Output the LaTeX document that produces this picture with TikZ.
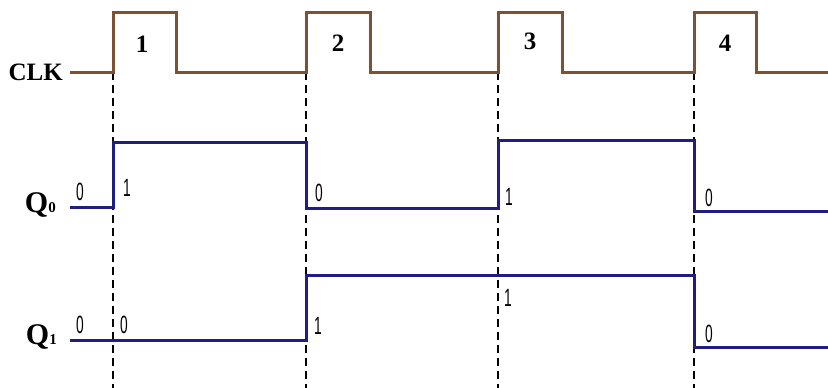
\documentclass[tikz,border=0pt]{standalone}
\usepackage{fontspec}
\setmainfont{Liberation Serif}
\newfontfamily\digitfont{Liberation Sans}
\definecolor{clkbrown}{RGB}{125,82,52}
\definecolor{qblue}{RGB}{32,30,128}
\tikzset{
  clkwave/.style={draw=clkbrown, line width=3pt, line join=miter},
  qwave/.style={draw=qblue, line width=3pt, line join=miter},
  guide/.style={draw=black, line width=1.1pt, dash pattern=on 8pt off 5pt},
  siglabel/.style={font=\bfseries\fontsize{25}{27}\selectfont, inner sep=0pt},
  pulselabel/.style={font=\bfseries\fontsize{25}{27}\selectfont, inner sep=0pt},
  qlabel/.style={font=\bfseries\fontsize{30}{32}\selectfont, inner sep=0pt, anchor=base east},
  bitlabel/.style={font=\digitfont\fontsize{25}{26}\selectfont, inner sep=0pt, xscale=0.55}
}
\begin{document}
\begin{tikzpicture}[x=1pt,y=-1pt]
\useasboundingbox (0,0) rectangle (828,388);
% guides
\foreach \gx/\gn in {113/g1,306/g2,498/g3,694/g4}{
  \coordinate (\gn top) at (\gx,72);
  \coordinate (\gn bot) at (\gx,388);
  \draw[guide] (\gn top) -- (\gn bot);
}
% CLK
\node[siglabel, anchor=east] (clk) at (63,72) {CLK};
\draw[clkwave] (70,72) -- (113,72) -- (113,12) -- (176,12) -- (176,72) -- (306,72) -- (306,12) -- (370,12) -- (370,72) -- (498,72) -- (498,12) -- (562,12) -- (562,72) -- (694,72) -- (694,12) -- (756,12) -- (756,72) -- (828,72);
\node[pulselabel] (p1) at (142,44) {1};
\node[pulselabel] (p2) at (338,43) {2};
\node[pulselabel] (p3) at (530,41) {3};
\node[pulselabel] (p4) at (725,43) {4};
% Q0
\node[qlabel] (q0) at (56,212) {Q{\fontsize{15}{16}\selectfont 0}};
\draw[qwave] (70,207) -- (113,207) -- (113,142) -- (306,142) -- (306,208) -- (498,208) -- (498,140) -- (694,140) -- (694,211) -- (828,211);
\node[bitlabel] (a0) at (80,192) {0};
\node[bitlabel] (a1) at (127,188) {1};
\node[bitlabel] (a2) at (319,193) {0};
\node[bitlabel] (a3) at (509,197) {1};
\node[bitlabel] (a4) at (709,198) {0};
% Q1
\node[qlabel] (q1) at (57,344) {Q{\fontsize{15}{16}\selectfont 1}};
\draw[qwave] (70,340) -- (306,340) -- (306,275) -- (694,275) -- (694,347) -- (828,347);
\node[bitlabel] (b0) at (80,325) {0};
\node[bitlabel] (b1) at (124,325) {0};
\node[bitlabel] (b2) at (318,326) {1};
\node[bitlabel] (b3) at (508,298) {1};
\node[bitlabel] (b4) at (709,334) {0};
\end{tikzpicture}
\end{document}
